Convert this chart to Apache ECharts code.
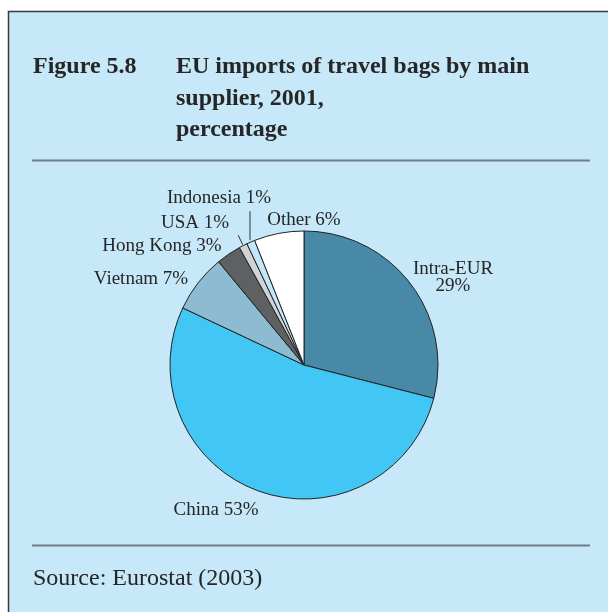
<!DOCTYPE html>
<html>
<head>
<meta charset="utf-8">
<script src="https://cdn.jsdelivr.net/npm/echarts@6/dist/echarts.min.js"></script>
<style>
  html, body { margin: 0; padding: 0; background: #ffffff; }
  #chart { width: 608px; height: 612px; }
</style>
</head>
<body>
<div id="chart"></div>
<script>
// Supplier shares of EU travel-bag imports, 2001 (per cent)
const suppliers = ['Intra-EUR', 'China', 'Vietnam', 'Hong Kong', 'USA', 'Indonesia', 'Other'];
const shares = [29, 53, 7, 3, 1, 1, 6];

// Slice fills, in supplier order
const sliceColors = ['#4889a7', '#42c6f3', '#8dbbd1', '#5f6062', '#d2d3d4', '#c2e7f8', '#ffffff'];

// Label anchor points (label centres)
const labelCentres = [[453, 278], [216, 510], [141, 279], [162, 246], [195, 223], [219, 198], [304, 220]];
// Leader lines for the thin slices: [gap from rim, dx, dy] of the stroke, or null
const leaders = [null, null, null, null, [1, -4.5, -9.5], [2, 0, -29], null];

const pieCenter = [304, 365];
const pieRadius = 134;

const panelBg = '#c6e8f8';
const inkColor = '#262626';
const serif = '"Liberation Serif", "Times New Roman", serif';

const total = shares.reduce((a, b) => a + b, 0);
// Mid angle of each slice, clockwise from 12 o'clock, in radians
const midAngles = [];
{
  let acc = 0;
  shares.forEach(v => { midAngles.push((acc + v / 2) / total * 2 * Math.PI); acc += v; });
}

const chart = echarts.init(document.getElementById('chart'), null, { renderer: 'canvas' });

const pieData = suppliers.map((name, i) => ({
  name: name,
  value: shares[i],
  itemStyle: { color: sliceColors[i] },
  labelLine: { show: !!leaders[i] }
}));

chart.setOption({
  animation: false,
  backgroundColor: '#ffffff',
  graphic: [
    { type: 'rect', z: -10, shape: { x: 8.5, y: 11.5, width: 640, height: 640 },
      style: { fill: panelBg, stroke: '#3a3a3a', lineWidth: 1.5 } },
    { type: 'line', shape: { x1: 32, y1: 160.5, x2: 590, y2: 160.5 },
      style: { stroke: '#6f7d86', lineWidth: 2 } },
    { type: 'line', shape: { x1: 32, y1: 545.5, x2: 590, y2: 545.5 },
      style: { stroke: '#6f7d86', lineWidth: 2 } },
    { type: 'text', x: 33, y: 67,
      style: { text: 'Figure 5.8', font: 'bold 24px ' + serif, fill: inkColor, verticalAlign: 'middle' } },
    { type: 'text', x: 176, y: 67,
      style: { text: 'EU imports of travel bags by main', font: 'bold 24px ' + serif, fill: inkColor, verticalAlign: 'middle' } },
    { type: 'text', x: 176, y: 99,
      style: { text: 'supplier, 2001,', font: 'bold 24px ' + serif, fill: inkColor, verticalAlign: 'middle' } },
    { type: 'text', x: 176, y: 130,
      style: { text: 'percentage', font: 'bold 24px ' + serif, fill: inkColor, verticalAlign: 'middle' } },
    { type: 'text', x: 33, y: 579,
      style: { text: 'Source: Eurostat (2003)', font: '24px ' + serif, fill: inkColor, verticalAlign: 'middle' } }
  ],
  series: [{
    type: 'pie',
    center: pieCenter,
    radius: pieRadius,
    startAngle: 90,
    clockwise: true,
    avoidLabelOverlap: false,
    itemStyle: { borderColor: '#222222', borderWidth: 1 },
    emphasis: { disabled: true },
    label: {
      show: true,
      position: 'outside',
      fontFamily: serif,
      fontSize: 19,
      color: inkColor,
      lineHeight: 17,
      align: 'center',
      formatter: p => p.name + (p.dataIndex === 0 ? '\n' : ' ') + p.value + '%'
    },
    labelLine: {
      show: false,
      lineStyle: { color: '#333333', width: 1 }
    },
    labelLayout: params => {
      const i = params.dataIndex;
      const c = labelCentres[i];
      const out = { x: c[0], y: c[1], align: 'center', verticalAlign: 'middle' };
      const ld = leaders[i];
      if (ld) {
        const a = midAngles[i];
        const r = pieRadius + ld[0];
        const sx = pieCenter[0] + r * Math.sin(a);
        const sy = pieCenter[1] - r * Math.cos(a);
        out.labelLinePoints = [[sx, sy], [sx + ld[1], sy + ld[2]]];
      }
      return out;
    },
    data: pieData
  }]
});
</script>
</body>
</html>
